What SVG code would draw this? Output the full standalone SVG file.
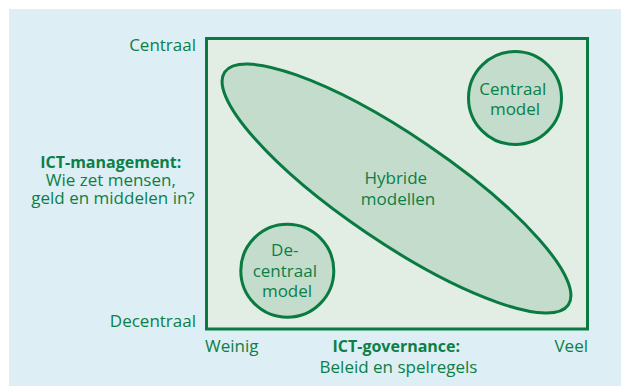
<svg xmlns="http://www.w3.org/2000/svg" width="621" height="386" viewBox="0 0 621 386">
  <style>
    .lbl { font-family: "Open Sans", "Noto Sans", sans-serif; font-size: 17px; fill: #0b7f47; }
    .b { font-weight: bold; font-size: 16px; }
    .shape { stroke: #087a42; stroke-width: 3; }
    .zone { fill: #c3dccb; }
  </style>
  <rect x="0" y="0" width="621" height="386" fill="#ffffff"/>
  <rect x="9" y="9" width="612" height="377" fill="#deeef5"/>

  <!-- plot area -->
  <g id="plot">
    <rect x="206.5" y="38.5" width="381" height="290.5" fill="#e2ede3" class="shape"/>
  </g>

  <!-- axis labels -->
  <g id="y-axis">
    <text class="lbl" x="196" y="51" text-anchor="end">Centraal</text>
    <text class="lbl" x="196" y="327" text-anchor="end">Decentraal</text>
    <text class="lbl" text-anchor="middle">
      <tspan class="b" x="113" y="167.5">ICT-management:</tspan>
      <tspan x="113" y="185.5">Wie zet mensen,</tspan>
      <tspan x="113" y="203.5">geld en middelen in?</tspan>
    </text>
  </g>
  <g id="x-axis">
    <text class="lbl" x="205" y="352">Weinig</text>
    <text class="lbl" x="588" y="352" text-anchor="end">Veel</text>
    <text class="lbl" text-anchor="middle">
      <tspan class="b" x="398.5" y="352">ICT-governance:</tspan>
      <tspan x="398.5" y="373">Beleid en spelregels</tspan>
    </text>
  </g>

  <!-- models -->
  <g id="hybride">
    <ellipse cx="396.5" cy="188.5" rx="207.5" ry="53.5" transform="rotate(34.1 396.5 188.5)" class="shape zone"/>
    <text class="lbl" text-anchor="middle">
      <tspan x="398" y="183.5">Hybride</tspan>
      <tspan x="398" y="204.5">modellen</tspan>
    </text>
  </g>
  <g id="centraal">
    <circle cx="515" cy="98" r="46.5" class="shape zone"/>
    <text class="lbl" text-anchor="middle">
      <tspan x="515" y="95">Centraal</tspan>
      <tspan x="515" y="114.5">model</tspan>
    </text>
  </g>
  <g id="decentraal">
    <circle cx="287.3" cy="270.7" r="46.5" class="shape zone"/>
    <text class="lbl" text-anchor="middle">
      <tspan x="287" y="255.7">De-</tspan>
      <tspan x="287" y="276.7">centraal</tspan>
      <tspan x="287" y="297.3">model</tspan>
    </text>
  </g>
</svg>
